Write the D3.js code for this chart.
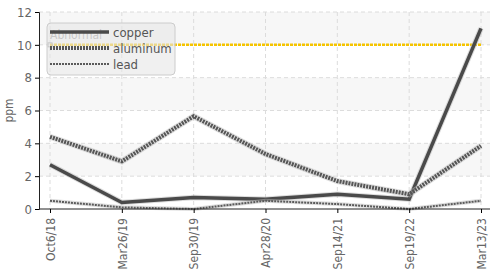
<!DOCTYPE html>
<html>
<head>
<meta charset="utf-8">
<script src="https://cdn.jsdelivr.net/npm/d3@7"></script>
<style>
  body { margin: 0; background: #fff; }
  text { font-family: "DejaVu Sans Condensed", "Liberation Sans Narrow", "Roboto", sans-serif; font-stretch: condensed; }
</style>
</head>
<body>
<script>
(function(){

    //chart data
    var dates = ["Oct6/18", "Mar26/19", "Sep30/19", "Apr28/20", "Sep14/21", "Sep19/22", "Mar13/23"];
    var copper = [2.7, 0.4, 0.7, 0.6, 0.9, 0.6, 11.0];
    var aluminum = [4.4, 2.9, 5.65, 3.35, 1.7, 0.9, 3.85];
    var lead = [0.5, 0.1, 0.0, 0.5, 0.3, 0.0, 0.5];
    var abnormal = 10;
    var yTicks = [0, 2, 4, 6, 8, 10, 12];

    var width = 490,
        height = 276,
        left = 39,
        top = 12,
        bottom = 209,
        right = 490;

    var svg = d3.select("body")
        .append("svg")
        .attr("width", width)
        .attr("height", height);

    var x = d3.scalePoint()
        .domain(dates)
        .range([left + 11, right - 9]);

    var y = d3.scaleLinear()
        .domain([0, 12])
        .range([bottom, top]);

    //alternating bands
    var bands = [[2, 4], [6, 8], [10, 12]];
    svg.selectAll(".band")
        .data(bands)
        .enter()
        .append("rect")
        .attr("x", left)
        .attr("width", right - left)
        .attr("y", function(d){ return y(d[1]); })
        .attr("height", function(d){ return y(d[0]) - y(d[1]); })
        .attr("fill", "#f7f7f7");

    //grid lines
    svg.selectAll(".hgrid")
        .data(yTicks.slice(1))
        .enter()
        .append("line")
        .attr("x1", left).attr("x2", right)
        .attr("y1", function(d){ return y(d); })
        .attr("y2", function(d){ return y(d); })
        .attr("stroke", "#dcdcdc")
        .attr("stroke-dasharray", "4,3");

    svg.selectAll(".vgrid")
        .data(dates)
        .enter()
        .append("line")
        .attr("x1", function(d){ return x(d); })
        .attr("x2", function(d){ return x(d); })
        .attr("y1", top).attr("y2", bottom)
        .attr("stroke", "#dcdcdc")
        .attr("stroke-dasharray", "4,3");

    //abnormal threshold
    svg.append("line")
        .attr("x1", x(dates[0])).attr("x2", x(dates[dates.length - 1]))
        .attr("y1", y(abnormal)).attr("y2", y(abnormal))
        .attr("stroke", "#f5c400")
        .attr("stroke-width", 2.5)
        .attr("stroke-dasharray", "3,1");

    //series lines
    var line = d3.line()
        .x(function(d, i){ return x(dates[i]); })
        .y(function(d){ return y(d); });

    var series = [
        {name: "copper", values: copper, width: 3.5, dash: null, color: "#4a4a4a"},
        {name: "aluminum", values: aluminum, width: 4, dash: "2,1", color: "#555"},
        {name: "lead", values: lead, width: 2, dash: "2,1", color: "#5a5a5a"}
    ];

    series.forEach(function(s){
        svg.append("path")
            .datum(s.values)
            .attr("fill", "none")
            .attr("stroke", "#bbb")
            .attr("stroke-opacity", 0.5)
            .attr("stroke-width", s.width + 2)
            .attr("d", line);
        svg.append("path")
            .datum(s.values)
            .attr("fill", "none")
            .attr("stroke", s.color)
            .attr("stroke-width", s.width)
            .attr("stroke-dasharray", s.dash)
            .attr("d", line);
    });

    //axes
    var yAxis = svg.append("g")
        .attr("transform", "translate(" + left + ",0)")
        .call(d3.axisLeft(y).tickValues(yTicks).tickSize(4).tickPadding(3));
    yAxis.select(".domain").attr("stroke", "#222");
    yAxis.selectAll("text").attr("fill", "#666").style("font-size", "13px");

    var xAxis = svg.append("g")
        .attr("transform", "translate(0," + bottom + ")")
        .call(d3.axisBottom(x).tickSize(4).tickSizeOuter(0));
    xAxis.select(".domain").attr("d", "M" + left + ",0H" + right).attr("stroke", "#222");
    xAxis.selectAll("text")
        .attr("fill", "#666")
        .style("font-size", "12px")
        .attr("transform", "rotate(-90)")
        .attr("text-anchor", "end")
        .attr("x", -9)
        .attr("y", 0)
        .attr("dy", "0.35em");

    svg.append("text")
        .attr("transform", "translate(13," + ((top + bottom) / 2) + ") rotate(-90)")
        .attr("text-anchor", "middle")
        .attr("fill", "#666")
        .style("font-size", "12px")
        .text("ppm");

    //abnormal label and marker
    svg.append("text")
        .attr("x", x(dates[0]))
        .attr("y", y(abnormal) - 6)
        .attr("fill", "#999")
        .style("font-size", "12px")
        .text("Abnormal");
    svg.append("rect")
        .attr("x", x(dates[0]) - 2)
        .attr("y", y(abnormal) - 2)
        .attr("width", 4).attr("height", 4)
        .attr("fill", "none")
        .attr("stroke", "#999");

    //legend
    var legend = svg.append("g").attr("transform", "translate(47,23)");
    legend.append("rect")
        .attr("width", 128).attr("height", 52)
        .attr("rx", 4)
        .attr("fill", "#e6e6e6")
        .attr("fill-opacity", 0.6)
        .attr("stroke", "#ccc");

    series.forEach(function(s, i){
        var ly = 9 + i * 16;
        legend.append("line")
            .attr("x1", 3).attr("x2", 62)
            .attr("y1", ly).attr("y2", ly)
            .attr("stroke", s.color)
            .attr("stroke-width", s.width)
            .attr("stroke-dasharray", s.dash);
        legend.append("text")
            .attr("x", 66).attr("y", ly)
            .attr("dy", "0.35em")
            .attr("fill", "#555")
            .style("font-size", "13px")
            .text(s.name);
    });

})();
</script>
</body>
</html>
